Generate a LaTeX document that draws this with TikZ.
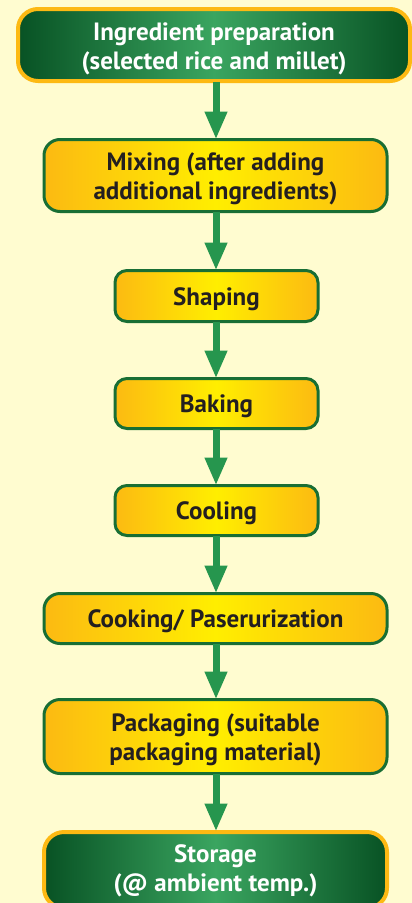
\documentclass[tikz,border=0pt]{standalone}
\usepackage{fontspec}
\setmainfont{PT Sans}
\usetikzlibrary{arrows.meta}
\definecolor{bgc}{RGB}{255,252,208}
\definecolor{gdark}{RGB}{8,82,36}
\definecolor{glight}{RGB}{58,165,96}
\definecolor{gline}{RGB}{24,110,52}
\definecolor{yorange}{RGB}{252,186,18}
\definecolor{ybright}{RGB}{255,238,0}
\definecolor{borderor}{RGB}{253,185,19}
\definecolor{txtdark}{RGB}{35,31,32}
\definecolor{arrg}{RGB}{38,150,78}
\tikzset{
  greenbox/.style={draw=borderor, line width=4pt, rounded corners=20pt,
    left color=gdark, right color=gdark, middle color=glight, inner sep=0pt},
  yellowbox/.style={draw=gline, line width=3pt, rounded corners=16pt,
    left color=yorange, right color=yorange, middle color=ybright, inner sep=0pt},
  smallbox/.style={yellowbox, rounded corners=12pt},
  boxtext/.style={font=\fontsize{25}{29}\selectfont\bfseries, align=center,
    inner sep=0pt, yshift=-3pt},
  wtext/.style={boxtext, text=white},
  dtext/.style={boxtext, text=txtdark},
  flowarrow/.style={draw=arrg, line width=7pt,
    -{Triangle[width=21pt,length=28pt]}, shorten <=-1pt, shorten >=-1.5pt}
}
\begin{document}
\begin{tikzpicture}[x=1pt,y=1pt]
\fill[bgc] (0,0) rectangle (412,-903);
\useasboundingbox (0,0) rectangle (412,-903);
\begin{scope}
\clip (0,0) rectangle (412,-903);
\node[greenbox, minimum width=392pt, minimum height=72pt] (b1) at (214,-45) {};
\node[yellowbox, minimum width=343pt, minimum height=72pt] (b2) at (215.5,-175.5) {};
\node[smallbox, minimum width=203pt, minimum height=51pt] (b3) at (216.5,-296) {};
\node[smallbox, minimum width=203pt, minimum height=50pt] (b4) at (216.5,-403.5) {};
\node[smallbox, minimum width=203pt, minimum height=50pt] (b5) at (216.5,-510.5) {};
\node[yellowbox, minimum width=343pt, minimum height=50pt] (b6) at (215.5,-618.5) {};
\node[yellowbox, minimum width=343pt, minimum height=74pt] (b7) at (215.5,-736.5) {};
\node[greenbox, minimum width=343pt, minimum height=76pt] (b8) at (215.5,-870) {};
\node[wtext] (t1) at ([yshift=-1pt]b1.center) {Ingredient preparation\\(selected rice and millet)};
\node[dtext] (t2) at (b2.center) {Mixing (after adding\\additional ingredients)};
\node[dtext] (t3) at (b3.center) {Shaping};
\node[dtext] (t4) at (b4.center) {Baking};
\node[dtext] (t5) at (b5.center) {Cooling};
\node[dtext] (t6) at (b6.center) {Cooking/ Paserurization};
\node[dtext] (t7) at (b7.center) {Packaging (suitable\\packaging material)};
\node[wtext] (t8) at ([yshift=2pt]b8.center) {Storage\\(@ ambient temp.)};
\draw[flowarrow] (b1.south -| 216,0) -- (b2.north -| 216,0);
\draw[flowarrow] (b2.south -| 216,0) -- (b3.north -| 216,0);
\draw[flowarrow] (b3.south -| 216,0) -- (b4.north -| 216,0);
\draw[flowarrow] (b4.south -| 216,0) -- (b5.north -| 216,0);
\draw[flowarrow] (b5.south -| 216,0) -- (b6.north -| 216,0);
\draw[flowarrow] (b6.south -| 216,0) -- (b7.north -| 216,0);
\draw[flowarrow] (b7.south -| 216,0) -- (b8.north -| 216,0);
\end{scope}
\end{tikzpicture}
\end{document}
